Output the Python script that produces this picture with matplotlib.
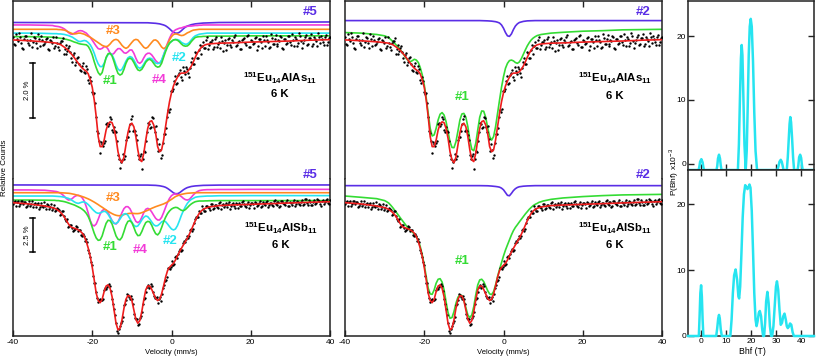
import numpy as np
import matplotlib
matplotlib.use('Agg')
import matplotlib.pyplot as plt

plt.rcParams['font.family'] = ['Liberation Sans', 'DejaVu Sans']
plt.rcParams['axes.unicode_minus'] = False
plt.rcParams['mathtext.fontset'] = 'custom'
plt.rcParams['mathtext.rm'] = 'Liberation Sans'
plt.rcParams['mathtext.bf'] = 'Liberation Sans:bold'

# ---------------- sampling grids (velocity, mm/s) ----------------
VEL_FIT = np.concatenate([[-40, -36, -32], np.arange(-30, 10.01, 0.5), [12, 15, 20, 25, 30, 35, 40]])
VEL_DATA = np.arange(-40, 40.01, 0.5)
VEL_DATA_2 = np.arange(-39.75, 39.76, 0.5)
VEL_SITE = [-40, -6, -4, -3, -2, -1.5, -1, -0.5, 0, 0.5, 1, 1.5, 2, 2.5, 3, 3.5, 4, 5, 6, 8, 12, 40]

# ---------------- Eu14AlAs11 (relative transmission, % from baseline) ----------------
DATA_AS = [
    0.12, -0.20, 0.04, 0.24, -0.10, -0.32, 0.16, -0.01, -0.18, 0.27,
    -0.09, 0.06, -0.30, 0.03, 0.16, -0.18, -0.09, 0.07, -0.36, -0.03,
    0.10, -0.21, -0.12, -0.37, -0.03, 0.06, -0.33, -0.51, -0.30, -0.45,
    -0.82, -0.49, -0.80, -0.62, -1.10, -0.97, -1.19, -0.96, -1.46, -1.36,
    -1.90, -1.95, -2.85, -3.42, -4.16, -3.84, -3.80, -3.10, -3.16, -2.85,
    -3.31, -3.21, -3.38, -4.22, -4.71, -4.41, -4.36, -3.66, -3.58, -3.10,
    -2.81, -3.32, -3.49, -4.24, -4.26, -4.75, -4.08, -3.70, -3.07, -3.23,
    -2.85, -3.20, -3.16, -4.07, -4.06, -4.23, -3.46, -3.23, -2.56, -2.52,
    -1.86, -1.79, -1.32, -1.59, -1.23, -1.35, -0.98, -1.27, -1.07, -1.35,
    -0.80, -0.90, -0.43, -0.67, -0.36, -0.52, -0.09, -0.29, 0.10, -0.18,
    -0.07, -0.35, 0.04, -0.27, -0.08, 0.10, -0.41, 0.00, -0.18, 0.08,
    -0.27, -0.09, 0.18, -0.20, -0.04, -0.35, 0.05, -0.10, 0.14, -0.27,
    0.01, -0.14, 0.08, -0.37, 0.05, -0.09, 0.13, -0.22, -0.01, -0.29,
    0.21, -0.14, 0.04, -0.22, -0.02, 0.16, -0.31, 0.03, -0.16, 0.14,
    -0.09, 0.20, -0.23, 0.03, -0.12, 0.13, -0.29, -0.01, 0.17, -0.15,
    0.08, -0.23, 0.12, -0.04, 0.25, -0.11, 0.02, -0.18, 0.17, -0.06,
    0.12]
DATA_AS_2 = [
    -0.14, 0.20, -0.04, 0.09, -0.29, 0.05, 0.16, -0.13, -0.01, -0.26,
    0.11, -0.11, 0.21, -0.23, -0.02, -0.16, 0.05, -0.33, -0.01, -0.10,
    -0.30, 0.12, -0.25, -0.11, -0.03, -0.53, -0.20, -0.40, -0.24, -0.65,
    -0.55, -0.92, -0.67, -0.90, -1.16, -0.83, -1.20, -1.08, -1.60, -1.51,
    -1.99, -2.33, -3.33, -3.71, -3.76, -3.88, -3.70, -3.04, -3.10, -2.91,
    -3.40, -3.36, -3.72, -4.38, -4.48, -4.18, -4.27, -3.57, -3.35, -2.89,
    -3.35, -3.33, -3.68, -4.37, -4.19, -4.38, -4.10, -3.37, -3.10, -3.19,
    -2.88, -3.37, -3.63, -3.83, -4.34, -3.78, -3.46, -2.82, -2.64, -1.88,
    -1.88, -1.50, -1.63, -1.28, -1.09, -1.49, -1.15, -1.01, -1.23, -1.03,
    -0.67, -0.87, -0.48, -0.67, -0.20, -0.23, -0.28, 0.00, -0.35, -0.09,
    0.00, -0.25, 0.10, -0.16, -0.30, -0.03, -0.11, -0.37, 0.05, -0.17,
    0.00, 0.10, -0.23, -0.06, -0.32, -0.02, 0.06, -0.18, 0.17, -0.25,
    -0.05, -0.13, 0.11, -0.21, 0.03, -0.30, -0.01, 0.15, -0.08, -0.25,
    0.07, -0.14, 0.19, -0.16, -0.05, 0.12, -0.32, 0.04, -0.10, 0.15,
    -0.19, 0.01, 0.09, -0.24, 0.24, -0.05, -0.12, 0.12, -0.19, 0.06,
    0.21, -0.14, 0.02, -0.24, 0.09, 0.16, -0.07, 0.12, -0.19, 0.06]
FIT_AS = [
    0.00, -0.03, -0.07,
    -0.10, -0.11, -0.12, -0.15, -0.17, -0.22, -0.27, -0.33, -0.39, -0.48,
    -0.56, -0.66, -0.76, -0.86, -0.96, -1.04, -1.10, -1.15, -1.25, -1.47,
    -1.74, -2.21, -2.82, -3.55, -3.92, -3.92, -3.68, -3.31, -3.09, -3.01,
    -3.04, -3.25, -3.61, -4.11, -4.41, -4.51, -4.31, -3.86, -3.41, -3.12,
    -3.06, -3.19, -3.55, -4.04, -4.41, -4.47, -4.17, -3.68, -3.25, -3.00,
    -2.97, -3.12, -3.43, -3.92, -4.11, -4.04, -3.68, -3.19, -2.70, -2.27,
    -1.94, -1.69, -1.51, -1.37, -1.26, -1.22, -1.22, -1.21, -1.17, -1.08,
    -0.96, -0.81, -0.64, -0.49, -0.37, -0.28, -0.22, -0.18, -0.16, -0.15, -0.14,
    -0.12, -0.11, -0.08, -0.06, -0.04, -0.01, 0.01]
SITE1_AS = [
    0.12, 0.12, 0.11,
    0.10, 0.09, 0.08, 0.07, 0.06, 0.05, 0.03, 0.02, 0.00, -0.02,
    -0.05, -0.08, -0.10, -0.13, -0.15, -0.16, -0.17, -0.18, -0.24, -0.37,
    -0.55, -0.80, -1.02, -1.20, -1.29, -1.20, -0.92, -0.64, -0.51, -0.49,
    -0.59, -0.80, -1.04, -1.23, -1.29, -1.25, -1.08, -0.86, -0.71, -0.67,
    -0.71, -0.83, -0.98, -1.10, -1.13, -1.08, -0.96, -0.82, -0.74, -0.71,
    -0.76, -0.86, -0.96, -1.00, -0.98, -0.86, -0.64, -0.43, -0.25, -0.12,
    -0.05, 0.00, 0.01, -0.01, -0.07, -0.15, -0.21, -0.23, -0.22, -0.16,
    -0.06, 0.02, 0.09, 0.11, 0.12, 0.12, 0.13, 0.13, 0.13, 0.14, 0.14,
    0.14, 0.14, 0.15, 0.15, 0.15, 0.15, 0.15]
SITE2_AS = [
    0.25, 0.25, 0.24,
    0.23, 0.23, 0.23, 0.22, 0.22, 0.21, 0.20, 0.18, 0.16, 0.13,
    0.10, 0.05, 0.00, -0.05, -0.06, -0.04, -0.02, -0.04, -0.10, -0.18,
    -0.31, -0.49, -0.71, -0.88, -0.98, -0.98, -0.86, -0.67, -0.53, -0.49,
    -0.55, -0.71, -0.92, -1.07, -1.13, -1.08, -0.94, -0.78, -0.66, -0.61,
    -0.64, -0.74, -0.88, -1.00, -1.04, -1.00, -0.89, -0.77, -0.69, -0.67,
    -0.69, -0.77, -0.85, -0.87, -0.85, -0.74, -0.55, -0.37, -0.22, -0.12,
    -0.06, 0.00, 0.02, 0.01, -0.02, -0.09, -0.13, -0.16, -0.15, -0.09,
    0.00, 0.09, 0.15, 0.18, 0.21, 0.22, 0.23, 0.24, 0.25, 0.25, 0.25,
    0.25, 0.25, 0.25, 0.25, 0.25, 0.25, 0.25]
SITE3_AS = [
    0.39, 0.39, 0.39,
    0.39, 0.39, 0.39, 0.38, 0.38, 0.37, 0.36, 0.33, 0.29, 0.26,
    0.23, 0.22, 0.23, 0.25, 0.25, 0.23, 0.21, 0.17, 0.13, 0.10,
    0.05, 0.00, -0.05, -0.10, -0.15, -0.20, -0.23, -0.25, -0.22, -0.15,
    -0.06, 0.00, 0.02, -0.01, -0.10, -0.20, -0.27, -0.31, -0.27, -0.18,
    -0.09, -0.01, 0.02, 0.00, -0.09, -0.18, -0.27, -0.31, -0.27, -0.18,
    -0.09, -0.01, 0.00, -0.05, -0.15, -0.26, -0.32, -0.28, -0.16, 0.00,
    0.12, 0.20, 0.22, 0.21, 0.18, 0.16, 0.17, 0.21, 0.26, 0.29,
    0.33, 0.36, 0.37, 0.38, 0.39, 0.39, 0.39, 0.39, 0.39, 0.39, 0.39,
    0.39, 0.39, 0.39, 0.39, 0.39, 0.39, 0.39]
SITE4_AS = [
    0.55, 0.55, 0.54,
    0.53, 0.51, 0.50, 0.49, 0.47, 0.44, 0.40, 0.34, 0.27, 0.22,
    0.21, 0.25, 0.29, 0.33, 0.34, 0.33, 0.29, 0.25, 0.17, 0.09,
    -0.01, -0.12, -0.23, -0.32, -0.34, -0.31, -0.25, -0.25, -0.34, -0.49,
    -0.54, -0.49, -0.39, -0.32, -0.32, -0.39, -0.47, -0.49, -0.44, -0.37,
    -0.37, -0.49, -0.67, -0.82, -0.86, -0.80, -0.66, -0.54, -0.49, -0.49,
    -0.55, -0.65, -0.76, -0.83, -0.86, -0.77, -0.56, -0.34, -0.12, 0.06,
    0.21, 0.31, 0.37, 0.40, 0.43, 0.44, 0.47, 0.49, 0.50, 0.51,
    0.51, 0.52, 0.53, 0.53, 0.54, 0.54, 0.55, 0.55, 0.55, 0.55, 0.55,
    0.55, 0.55, 0.55, 0.55, 0.55, 0.55, 0.55]
SITE5_AS = [0.64, 0.63, 0.61, 0.59, 0.55, 0.52, 0.47, 0.41, 0.34, 0.28, 0.25,
            0.25, 0.28, 0.34, 0.41, 0.47, 0.51, 0.56, 0.59, 0.62, 0.64, 0.66]
DIST1_AS = [
    0.27, 0.25, 0.20,
    0.15, 0.12, 0.09, 0.02, -0.05, -0.12, -0.20, -0.28, -0.37, -0.47,
    -0.58, -0.69, -0.77, -0.80, -0.76, -0.71, -0.74, -0.83, -1.02, -1.29,
    -1.65, -2.14, -2.70, -3.25, -3.53, -3.49, -3.25, -2.94, -2.73, -2.67,
    -2.76, -3.00, -3.37, -3.74, -3.95, -3.96, -3.74, -3.35, -2.94, -2.72,
    -2.70, -2.84, -3.19, -3.68, -4.02, -4.07, -3.80, -3.31, -2.84, -2.61,
    -2.62, -2.84, -3.22, -3.55, -3.68, -3.55, -3.19, -2.70, -2.21, -1.74,
    -1.35, -1.04, -0.86, -0.76, -0.74, -0.77, -0.83, -0.86, -0.81, -0.69,
    -0.53, -0.37, -0.22, -0.10, 0.00, 0.07, 0.12, 0.16, 0.18, 0.20, 0.21,
    0.25, 0.28, 0.32, 0.34, 0.37, 0.38, 0.39]
DIST2_AS = [0.71, 0.71, 0.70, 0.69, 0.67, 0.65, 0.62, 0.55, 0.43, 0.27, 0.15,
            0.13, 0.22, 0.38, 0.51, 0.59, 0.64, 0.68, 0.70, 0.71, 0.71, 0.71]

# ---------------- Eu14AlSb11 ----------------
DATA_SB = [
    -0.15, 0.09, -0.03, -0.30, 0.09, -0.15, -0.02, -0.29, 0.10, -0.18,
    -0.37, -0.08, -0.15, -0.48, -0.05, -0.35, -0.28, -0.15, -0.48, -0.16,
    -0.45, -0.66, -0.43, -0.60, -0.90, -0.65, -1.20, -1.28, -1.82, -1.64,
    -1.85, -2.02, -1.76, -2.08, -2.01, -2.44, -2.45, -2.65, -3.49, -3.98,
    -4.56, -5.84, -6.51, -7.23, -7.02, -7.10, -6.34, -6.31, -5.97, -6.05,
    -7.00, -7.71, -8.77, -9.46, -8.98, -8.62, -7.45, -7.08, -6.69, -6.98,
    -7.00, -8.06, -8.43, -8.89, -8.37, -7.94, -6.98, -6.52, -6.01, -6.15,
    -6.09, -6.78, -6.93, -7.32, -6.88, -6.68, -5.98, -5.67, -4.79, -4.81,
    -4.56, -4.58, -3.95, -4.01, -3.56, -3.55, -2.97, -2.92, -2.44, -2.49,
    -1.94, -1.93, -1.24, -1.09, -0.63, -0.77, -0.51, -0.67, -0.27, -0.43,
    -0.12, -0.51, -0.25, -0.39, -0.09, -0.50, -0.16, -0.24, -0.37, -0.02,
    -0.27, -0.10, -0.40, -0.17, -0.04, -0.29, 0.04, -0.32, -0.11, -0.40,
    -0.07, -0.18, 0.02, -0.31, -0.10, -0.39, -0.01, -0.20, 0.07, -0.24,
    -0.09, -0.29, 0.14, -0.19, -0.01, -0.30, 0.05, -0.13, 0.03, -0.31,
    -0.01, -0.19, 0.13, -0.13, -0.03, -0.23, 0.11, -0.14, 0.19, -0.19,
    0.02, -0.23, 0.11, -0.04, 0.17, -0.14, 0.08, -0.18, 0.11, -0.04,
    0.15]
DATA_SB_2 = [
    -0.01, -0.27, 0.04, -0.16, 0.07, -0.02, -0.36, -0.12, -0.28, 0.05,
    -0.12, -0.39, -0.08, -0.34, -0.29, -0.02, -0.52, -0.22, -0.33, -0.55,
    -0.25, -0.56, -0.50, -0.96, -0.66, -1.01, -1.34, -1.23, -1.77, -1.69,
    -2.07, -1.95, -1.78, -2.01, -2.42, -2.28, -2.82, -2.92, -3.70, -4.30,
    -5.34, -5.86, -6.97, -7.07, -7.10, -6.99, -6.21, -6.13, -5.89, -6.41,
    -7.38, -8.14, -9.29, -9.21, -8.76, -8.30, -7.37, -6.65, -6.87, -6.79,
    -7.39, -8.35, -8.48, -8.78, -8.26, -7.40, -6.94, -6.11, -6.20, -5.96,
    -6.48, -6.92, -6.88, -7.04, -7.13, -6.23, -5.72, -5.39, -4.74, -4.72,
    -4.28, -4.47, -3.92, -3.79, -3.40, -3.48, -2.79, -2.69, -2.58, -2.02,
    -2.06, -1.50, -1.12, -1.11, -0.80, -0.32, -0.64, -0.32, -0.35, -0.58,
    -0.14, -0.41, -0.24, -0.46, -0.01, -0.25, -0.37, -0.10, -0.16, -0.49,
    -0.11, -0.27, -0.05, -0.41, -0.28, 0.03, -0.16, -0.34, 0.00, -0.20,
    -0.08, -0.41, -0.04, -0.23, 0.09, -0.31, -0.13, 0.01, -0.34, -0.07,
    -0.25, 0.09, -0.15, -0.01, -0.38, 0.08, -0.04, -0.20, 0.15, -0.27,
    -0.07, 0.02, -0.31, 0.08, -0.14, 0.00, -0.21, 0.23, -0.09, 0.13,
    -0.24, 0.01, -0.11, 0.19, 0.07, -0.27, 0.12, -0.02, 0.23, -0.12]
FIT_SB = [
    -0.05, -0.14, -0.29,
    -0.41, -0.46, -0.53, -0.63, -0.75, -0.91, -1.11, -1.35, -1.59, -1.78,
    -1.85, -1.90, -1.95, -2.02, -2.12, -2.26, -2.50, -2.86, -3.35, -3.95,
    -4.72, -5.63, -6.59, -7.12, -7.27, -7.03, -6.47, -6.07, -5.99, -6.23,
    -6.84, -7.80, -8.76, -9.24, -9.12, -8.52, -7.68, -7.03, -6.76, -6.79,
    -7.12, -7.80, -8.47, -8.76, -8.57, -7.92, -7.08, -6.35, -6.07, -6.07,
    -6.31, -6.64, -6.96, -7.12, -7.03, -6.64, -6.07, -5.44, -4.96, -4.72,
    -4.57, -4.43, -4.19, -3.90, -3.61, -3.35, -3.10, -2.86, -2.62, -2.33,
    -2.02, -1.68, -1.35, -1.06, -0.82, -0.65, -0.53, -0.46, -0.41, -0.36, -0.34,
    -0.26, -0.22, -0.17, -0.12, -0.07, -0.02, 0.02]
SITE1_SB = [
    0.14, 0.14, 0.13,
    0.12, 0.12, 0.10, 0.10, 0.07, 0.05, 0.02, -0.02, -0.07, -0.12,
    -0.17, -0.22, -0.29, -0.36, -0.43, -0.53, -0.65, -0.82, -1.06, -1.40,
    -1.83, -2.26, -2.60, -2.77, -2.74, -2.45, -1.97, -1.54, -1.32, -1.35,
    -1.59, -2.02, -2.45, -2.69, -2.74, -2.55, -2.14, -1.68, -1.40, -1.35,
    -1.49, -1.83, -2.21, -2.43, -2.41, -2.14, -1.78, -1.49, -1.40, -1.44,
    -1.68, -2.02, -2.29, -2.38, -2.21, -1.85, -1.44, -1.11, -0.84, -0.65,
    -0.51, -0.43, -0.39, -0.41, -0.51, -0.60, -0.63, -0.55, -0.41, -0.26,
    -0.14, -0.05, 0.02, 0.05, 0.07, 0.07, 0.07, 0.08, 0.08, 0.09, 0.09,
    0.10, 0.10, 0.10, 0.10, 0.10, 0.10, 0.10]
SITE2_SB = [
    0.43, 0.43, 0.43,
    0.43, 0.42, 0.41, 0.40, 0.39, 0.37, 0.34, 0.30, 0.26, 0.19,
    0.10, 0.00, -0.07, -0.10, -0.05, 0.00, 0.00, -0.07, -0.19, -0.34,
    -0.51, -0.65, -0.77, -0.82, -0.79, -0.72, -0.67, -0.72, -0.89, -1.13,
    -1.37, -1.54, -1.56, -1.44, -1.23, -1.01, -0.87, -0.84, -0.96, -1.20,
    -1.47, -1.68, -1.78, -1.73, -1.54, -1.30, -1.11, -1.01, -1.06, -1.23,
    -1.44, -1.64, -1.73, -1.71, -1.59, -1.44, -1.37, -1.42, -1.59, -1.78,
    -1.95, -2.02, -1.95, -1.71, -1.35, -0.96, -0.63, -0.34, -0.10, 0.07,
    0.19, 0.26, 0.34, 0.37, 0.39, 0.40, 0.41, 0.42, 0.43, 0.43, 0.43,
    0.45, 0.45, 0.46, 0.46, 0.46, 0.46, 0.46]
SITE3_SB = [
    0.67, 0.67, 0.67,
    0.67, 0.67, 0.67, 0.67, 0.67, 0.66, 0.65, 0.64, 0.63, 0.61,
    0.58, 0.55, 0.51, 0.47, 0.43, 0.39, 0.34, 0.28, 0.22, 0.15,
    0.07, -0.01, -0.10, -0.19, -0.29, -0.38, -0.48, -0.58, -0.67, -0.76,
    -0.84, -0.91, -0.96, -0.99, -0.99, -0.95, -0.91, -0.87, -0.84, -0.82,
    -0.82, -0.83, -0.84, -0.84, -0.82, -0.77, -0.72, -0.66, -0.60, -0.53,
    -0.46, -0.40, -0.34, -0.29, -0.24, -0.19, -0.14, -0.07, 0.00, 0.10,
    0.19, 0.29, 0.39, 0.45, 0.51, 0.55, 0.58, 0.61, 0.63, 0.64,
    0.65, 0.66, 0.67, 0.67, 0.67, 0.67, 0.67, 0.67, 0.67, 0.67, 0.67,
    0.67, 0.67, 0.67, 0.67, 0.67, 0.67, 0.67]
SITE4_SB = [
    0.87, 0.87, 0.85,
    0.79, 0.77, 0.75, 0.70, 0.63, 0.53, 0.39, 0.24, 0.14, 0.17,
    0.26, 0.39, 0.46, 0.48, 0.43, 0.29, 0.05, -0.34, -0.82, -1.35,
    -1.66, -1.73, -1.59, -1.25, -0.87, -0.63, -0.53, -0.58, -0.77, -1.06,
    -1.35, -1.54, -1.59, -1.44, -1.13, -0.77, -0.48, -0.34, -0.34, -0.48,
    -0.77, -1.11, -1.40, -1.49, -1.40, -1.11, -0.77, -0.53, -0.46, -0.53,
    -0.72, -0.96, -1.18, -1.30, -1.30, -1.11, -0.77, -0.39, -0.02, 0.26,
    0.46, 0.55, 0.58, 0.55, 0.48, 0.39, 0.26, 0.17, 0.14, 0.19,
    0.34, 0.51, 0.65, 0.75, 0.82, 0.85, 0.87, 0.88, 0.89, 0.89, 0.89,
    0.90, 0.90, 0.91, 0.91, 0.91, 0.91, 0.91]
SITE5_SB = [1.23, 1.22, 1.20, 1.17, 1.11, 1.06, 0.98, 0.88, 0.77, 0.66, 0.60,
            0.60, 0.66, 0.77, 0.88, 0.97, 1.04, 1.12, 1.16, 1.20, 1.22, 1.23]
DIST1_SB = [
    0.43, 0.34, 0.24,
    0.10, 0.02, -0.07, -0.22, -0.39, -0.58, -0.77, -0.96, -1.16, -1.35,
    -1.54, -1.73, -1.90, -2.05, -2.17, -2.31, -2.50, -2.79, -3.23, -3.83,
    -4.55, -5.39, -6.23, -6.64, -6.67, -6.35, -5.87, -5.58, -5.54, -5.78,
    -6.35, -7.20, -7.99, -8.40, -8.35, -7.92, -7.32, -6.88, -6.71, -6.76,
    -7.08, -7.63, -8.16, -8.35, -8.16, -7.56, -6.71, -5.99, -5.63, -5.58,
    -5.75, -6.07, -6.40, -6.64, -6.69, -6.47, -5.99, -5.39, -4.86, -4.38,
    -3.90, -3.47, -3.10, -2.74, -2.38, -2.07, -1.83, -1.64, -1.44, -1.25,
    -1.06, -0.87, -0.70, -0.53, -0.39, -0.26, -0.17, -0.10, -0.02, 0.02, 0.07,
    0.19, 0.29, 0.39, 0.46, 0.51, 0.53, 0.55]
DIST2_SB = [1.18, 1.18, 1.17, 1.15, 1.12, 1.10, 1.07, 1.00, 0.88, 0.68, 0.48,
            0.45, 0.62, 0.82, 0.96, 1.05, 1.10, 1.14, 1.16, 1.18, 1.18, 1.18]

# ---------------- hyperfine field distributions P(Bhf) x10^-3 ----------------
BHF_AS = [-5, -0.8, -0.5, -0.2, 0.3, 0.8, 1.1, 1.4, 6.3, 6.6, 6.9, 7.3, 7.7, 8.0, 8.3,
          14.8, 15.2, 15.6, 16.0, 16.3, 16.6, 17.0, 17.4, 17.9, 18.3, 18.7, 19.1, 19.5,
          19.9, 20.3, 20.8, 21.3, 21.8, 22.4, 30.5, 30.9, 31.3, 31.8, 32.2, 32.6, 32.9,
          34.2, 34.6, 35.0, 35.3, 35.6, 35.9, 36.3, 36.7, 37.1, 38.5, 38.8, 39.1, 39.5,
          39.9, 40.2, 40.5, 45]
PBHF_AS = [-1, -1, -0.5, 0.3, 0.7, 0.2, -0.6, -1, -1, -0.4, 0.8, 1.4, 0.8, -0.3, -1,
           -1, 3, 10, 16.5, 18.6, 17, 10, 3, -1, 2, 9, 17, 21.5,
           22.7, 21.5, 16, 8, 2, -1, -1, -0.4, 0.3, 0.6, 0.3, -0.4, -1,
           -1, 1, 4, 6.2, 7.3, 6.5, 4, 1, -1, -1, -0.2, 1.0, 1.4,
           0.9, -0.2, -1, -1]
BHF_SB = [-5, -0.7, -0.4, -0.1, 0.2, 0.5, 0.8, 1.1, 6.2, 6.6, 7.0, 7.3, 7.6, 8.0, 8.4,
          11.8, 12.3, 12.8, 13.3, 13.9, 14.5, 15.0, 15.3, 15.7, 16.2, 16.7, 17.2, 17.7,
          18.2, 18.6, 19.0, 19.4, 19.8, 20.3, 20.8, 21.3, 21.8, 22.2, 22.6, 23.1, 23.5,
          24.0, 24.4, 24.8, 25.2, 25.6, 26.0, 26.5, 27.0, 27.5, 28.0, 28.4, 28.9, 29.4,
          29.9, 30.3, 30.8, 31.3, 31.8, 32.3, 32.8, 33.3, 33.8, 34.2, 34.6, 35.0, 35.5,
          36.0, 36.5, 37.0, 45]
PBHF_SB = [0, 0, 3, 6.5, 7.7, 6, 2.5, 0, 0, 1.2, 2.7, 3.2, 2.7, 1.0, 0,
           0, 2.5, 6.5, 9.2, 10.1, 8.5, 6.0, 5.7, 7.5, 12.5, 18, 21.5, 22.9,
           22.6, 22.3, 22.6, 23.0, 22.5, 19, 13, 6.5, 2.5, 1.5, 2.2, 3.5, 3.8,
           3.0, 1.2, 0, 0, 2, 5.2, 6.7, 5, 1.5, 0, 0, 1.5, 4.5,
           7.5, 8.3, 7.0, 4.0, 1.7, 2.0, 3.0, 3.4, 2.5, 1.5, 1.2, 1.4, 1.9,
           1.7, 0.6, 0, 0]

# ---------------- styling ----------------
C_BLUE = '#5a2ee6'
C_MAG = '#f23bd8'
C_ORA = '#ff8a1f'
C_CYAN = '#26e4f0'
C_GREEN = '#34dc34'
C_RED = '#ee1c1c'
SPINE = '#222222'

W, H = 817, 359
fig = plt.figure(figsize=(W / 100, H / 100), dpi=100)


def add_ax(x0, y0, x1, y1):
    return fig.add_axes([x0 / W, 1 - y1 / H, (x1 - x0) / W, (y1 - y0) / H])


def style_spec_pair(at, ab, ylim_t, ylim_b):
    for a in (at, ab):
        a.set_xlim(-40, 40)
        a.set_yticks([])
        for s in a.spines.values():
            s.set_color(SPINE)
            s.set_linewidth(1.1)
    at.set_ylim(*ylim_t)
    ab.set_ylim(*ylim_b)
    at.spines['bottom'].set_visible(False)
    ab.spines['top'].set_visible(False)
    at.set_xticks([-20, 0, 20])
    at.tick_params(axis='x', top=True, bottom=False, labeltop=False, labelbottom=False,
                   direction='in', length=4, width=1, color=SPINE)
    ab.set_xticks([-40, -20, 0, 20, 40])
    ab.tick_params(axis='x', top=False, bottom=True, direction='in', length=4, width=1,
                   color=SPINE, labelsize=6, pad=2)


def draw_data(ax, d1, d2):
    ax.scatter(VEL_DATA, d1, s=3, color='k', linewidths=0, zorder=3)
    ax.scatter(VEL_DATA_2, d2, s=3, color='k', linewidths=0, zorder=3)


lw = 1.2
YL_T = (-5.11, 1.43)
YL_B = (-9.68, 1.66)

# ---------- left panel: site fits ----------
aLt = add_ax(13, 1, 330, 179)
aLb = add_ax(13, 179, 330, 336)
style_spec_pair(aLt, aLb, YL_T, YL_B)

for ax, s5, s4, s3, s2, s1, d1, d2, fit in (
        (aLt, SITE5_AS, SITE4_AS, SITE3_AS, SITE2_AS, SITE1_AS, DATA_AS, DATA_AS_2, FIT_AS),
        (aLb, SITE5_SB, SITE4_SB, SITE3_SB, SITE2_SB, SITE1_SB, DATA_SB, DATA_SB_2, FIT_SB)):
    ax.plot(VEL_SITE, s5, color=C_BLUE, lw=lw)
    ax.plot(VEL_FIT, s4, color=C_MAG, lw=lw)
    ax.plot(VEL_FIT, s3, color=C_ORA, lw=lw)
    ax.plot(VEL_FIT, s2, color=C_CYAN, lw=lw)
    ax.plot(VEL_FIT, s1, color=C_GREEN, lw=lw)
    draw_data(ax, d1, d2)
    ax.plot(VEL_FIT, fit, color=C_RED, lw=lw, zorder=4)

# scale bars
for ax, y0, y1, lab, ylab in ((aLt, -0.86, -2.86, '2.0 %', -1.86), (aLb, -1.13, -3.63, '2.5 %', -2.38)):
    ax.plot([-35, -35], [y0, y1], color='k', lw=1.1)
    ax.plot([-35.6, -34.4], [y0, y0], color='k', lw=1.1)
    ax.plot([-35.6, -34.4], [y1, y1], color='k', lw=1.1)
    ax.text(-36.4, ylab, lab, rotation=90, ha='center', va='center', fontsize=5.5)

tk = dict(fontsize=9.5, fontweight='bold', ha='center', va='center', clip_on=False)
aLt.text(35.1, 1.01, '#5', color=C_BLUE, **tk)
aLt.text(-14.8, 0.31, '#3', color=C_ORA, **tk)
aLt.text(-15.4, -1.51, '#1', color=C_GREEN, **tk)
aLt.text(-3.0, -1.47, '#4', color=C_MAG, **tk)
aLt.text(2.0, -0.66, '#2', color=C_CYAN, **tk)
aLb.text(35.1, 1.95, '#5', color=C_BLUE, **tk)
aLb.text(-14.8, 0.32, '#3', color=C_ORA, **tk)
aLb.text(-15.4, -3.25, '#1', color=C_GREEN, **tk)
aLb.text(-7.8, -3.47, '#4', color=C_MAG, **tk)
aLb.text(-0.25, -2.82, '#2', color=C_CYAN, **tk)

NAME_AS = r'$^{\mathbf{151}}$Eu$_{\mathbf{14}}$AlAs$_{\mathbf{11}}$'
NAME_SB = r'$^{\mathbf{151}}$Eu$_{\mathbf{14}}$AlSb$_{\mathbf{11}}$'
nk = dict(fontsize=8.2, fontweight='bold', ha='center', va='center')
aLt.text(27.4, -1.42, NAME_AS, **nk)
aLt.text(27.4, -2.00, '6 K', **nk)
aLb.text(27.6, -1.92, NAME_SB, **nk)
aLb.text(27.6, -3.14, '6 K', **nk)

# ---------- middle panel: distribution fits ----------
aMt = add_ax(345, 1, 662, 179)
aMb = add_ax(345, 179, 662, 336)
style_spec_pair(aMt, aMb, YL_T, YL_B)
for ax, s2, s1, d1, d2, fit in ((aMt, DIST2_AS, DIST1_AS, DATA_AS, DATA_AS_2, FIT_AS),
                                (aMb, DIST2_SB, DIST1_SB, DATA_SB, DATA_SB_2, FIT_SB)):
    ax.plot(VEL_SITE, s2, color=C_BLUE, lw=lw)
    ax.plot(VEL_FIT, s1, color=C_GREEN, lw=lw)
    draw_data(ax, d1, d2)
    ax.plot(VEL_FIT, fit, color=C_RED, lw=lw, zorder=4)

aMt.text(35.3, 1.01, '#2', color=C_BLUE, **tk)
aMt.text(-10.5, -2.11, '#1', color=C_GREEN, **tk)
aMb.text(35.3, 1.95, '#2', color=C_BLUE, **tk)
aMb.text(-10.5, -4.26, '#1', color=C_GREEN, **tk)
aMt.text(28.1, -1.42, NAME_AS, **nk)
aMt.text(28.1, -2.05, '6 K', **nk)
aMb.text(28.1, -1.92, NAME_SB, **nk)
aMb.text(28.1, -3.14, '6 K', **nk)

# ---------- right panel: P(Bhf) ----------
aRt = add_ax(688, 1, 814, 170)
aRb = add_ax(688, 170, 814, 336)
for ax in (aRt, aRb):
    ax.set_xlim(-5, 45)
    ax.set_xticks([0, 10, 20, 30, 40])
    ax.set_yticks([0, 10, 20])
    for s in ax.spines.values():
        s.set_color(SPINE)
        s.set_linewidth(1.1)
    ax.tick_params(axis='both', direction='in', length=4, width=1, color=SPINE,
                   labelsize=6, pad=1.5, left=True, right=True)
aRt.set_ylim(-1, 25.5)
aRb.set_ylim(0, 25.2)
aRt.tick_params(axis='x', bottom=True, top=False, labelbottom=False)
aRb.tick_params(axis='x', bottom=True, top=True, labelbottom=True)
aRt.plot(BHF_AS, PBHF_AS, color=C_CYAN, lw=1.8, clip_on=True)
aRb.plot(BHF_SB, PBHF_SB, color=C_CYAN, lw=1.8, clip_on=False, zorder=5)

# ---------- figure labels ----------
fig.text(5 / W, 1 - 168 / H, 'Relative Counts', rotation=90, ha='center', va='center', fontsize=5.8)
fig.text(171.5 / W, 1 - 353 / H, 'Velocity (mm/s)', ha='center', va='center', fontsize=5.5)
fig.text(503 / W, 1 - 353 / H, 'Velocity (mm/s)', ha='center', va='center', fontsize=5.5)
fig.text(752 / W, 1 - 352 / H, 'Bhf (T)', ha='center', va='center', fontsize=6.3)
fig.text(674 / W, 1 - 172 / H, r'P(Bhf) x10$^{-3}$', rotation=90, ha='center', va='center', fontsize=6)

fig.savefig('out.png', dpi=100)
